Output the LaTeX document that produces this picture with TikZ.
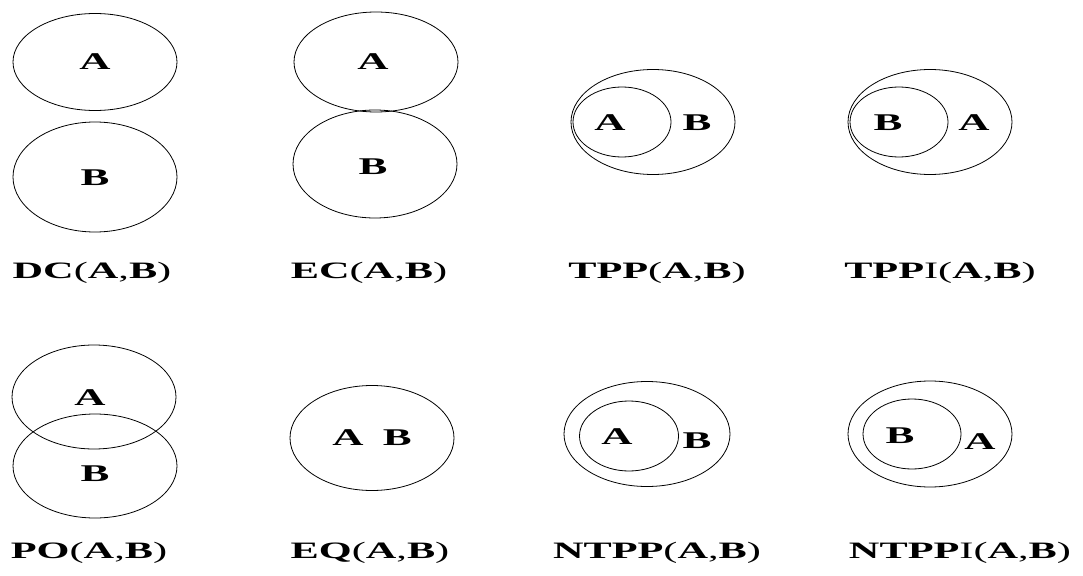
\documentclass[tikz,border=0pt]{standalone}
\usepackage{fontspec}
\usetikzlibrary{shapes.geometric}
\newfontfamily\rccfont[FakeStretch=1.8]{Liberation Serif}
\newcommand{\bl}[1]{\textbf{#1}}
\tikzset{
  region/.style={draw, ellipse, line width=0.8pt, inner sep=0pt},
  big/.style={region, minimum width=164, minimum height=104},
  small/.style={region, minimum width=98, minimum height=70},
  letter/.style={font=\rccfont\bfseries\fontsize{24}{24}\selectfont, inner sep=0pt},
  caption/.style={font=\rccfont\fontsize{23.5}{23.5}\selectfont, inner sep=0pt}
}
\begin{document}
\begin{tikzpicture}[x=1pt,y=-1pt]
\useasboundingbox (0,0) rectangle (1083,575);
% DC
\node[big, minimum height=97] (dcA) at (95,62) {};
\node[big, minimum height=110] (dcB) at (95,177) {};
\node[letter] (dcAt) at (95,62) {A};
\node[letter] (dcBt) at (95,178) {B};
\node[caption] (dcL) at (92,273) {\bl{DC}(\bl{A},\bl{B})};
% EC
\node[big, minimum height=100] (ecA) at (376,62) {};
\node[big, minimum height=108] (ecB) at (375,164) {};
\node[letter] (ecAt) at (373,62) {A};
\node[letter] (ecBt) at (373,167) {B};
\node[caption] (ecL) at (369,273) {\bl{EC}(\bl{A},\bl{B})};
% TPP
\node[big, minimum height=105] (tppB) at (653,122) {};
\node[small] (tppA) at (622,122) {};
\node[letter] (tppAt) at (610,123) {A};
\node[letter] (tppBt) at (697,123) {B};
\node[caption] (tppL) at (657,273) {\bl{TPP}(\bl{A},\bl{B})};
% TPPI
\node[big, minimum height=105] (tppiA) at (930,122) {};
\node[small] (tppiB) at (899,122) {};
\node[letter] (tppiBt) at (888,123) {B};
\node[letter] (tppiAt) at (974,123) {A};
\node[caption] (tppiL) at (940,273) {\bl{TPP}I(\bl{A},\bl{B})};
% PO
\node[big] (poA) at (94,397) {};
\node[big] (poB) at (95,466) {};
\node[letter] (poAt) at (90,398) {A};
\node[letter] (poBt) at (95,474) {B};
\node[caption] (poL) at (89,553) {\bl{PO}(\bl{A},\bl{B})};
% EQ
\node[big, minimum height=105] (eq) at (372,438) {};
\node[letter] (eqt) at (372,438) {A\hspace{0.8em}B};
\node[caption] (eqL) at (370,553) {\bl{EQ}(\bl{A},\bl{B})};
% NTPP
\node[big, minimum width=166, minimum height=105] (ntppB) at (647,434) {};
\node[small, minimum width=99] (ntppA) at (629,436) {};
\node[letter] (ntppAt) at (617,437) {A};
\node[letter] (ntppBt) at (697,441) {B};
\node[caption] (ntppL) at (657,553) {\bl{NTPP}(\bl{A},\bl{B})};
% NTPPI
\node[big, minimum height=106] (ntppiA) at (930,434) {};
\node[small] (ntppiB) at (912,434) {};
\node[letter] (ntppiBt) at (900,436) {B};
\node[letter] (ntppiAt) at (980,442) {A};
\node[caption] (ntppiL) at (960,553) {\bl{NTPP}I(\bl{A},\bl{B})};
\end{tikzpicture}
\end{document}
